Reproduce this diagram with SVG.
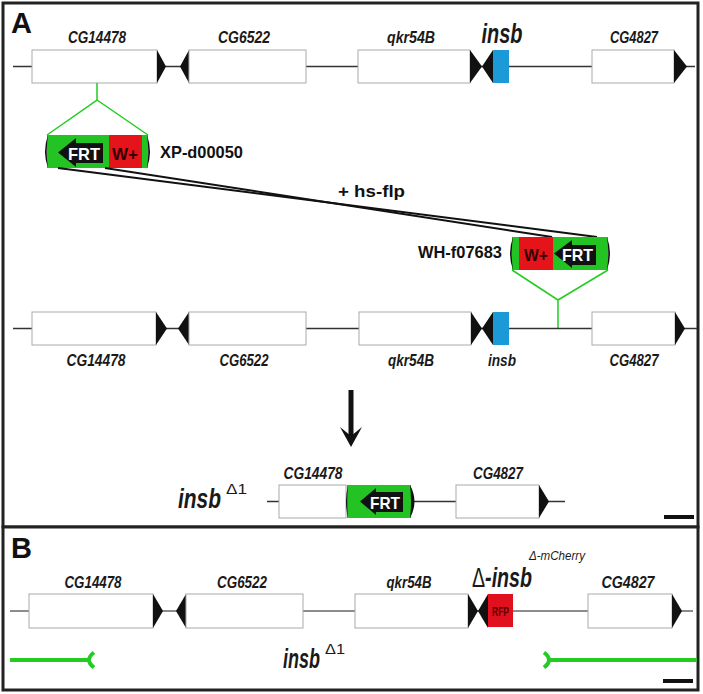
<svg xmlns="http://www.w3.org/2000/svg" width="703" height="694" viewBox="0 0 703 694">
<style>
.panel{fill:#fff;stroke:#222;stroke-width:3}
.gl{stroke:#333;stroke-width:1.5;fill:none}
.glb{stroke:#666;stroke-width:1.5;fill:none}
.gene{fill:#fff;stroke:#aaa;stroke-width:1}
.tri{fill:#111}
.lbl{font-family:"Liberation Sans",Arial,sans-serif;font-weight:bold;font-style:italic;font-size:16px;fill:#1a1a1a;text-anchor:middle}
.big{font-family:"Liberation Sans",Arial,sans-serif;font-weight:bold;font-style:italic;font-size:27px;fill:#1a1a1a}
.sup{font-family:"Liberation Sans",Arial,sans-serif;font-size:15px;fill:#1a1a1a}
.name{font-family:"Liberation Sans",Arial,sans-serif;font-weight:bold;font-size:17px;fill:#111}
.pl{font-family:"Liberation Sans",Arial,sans-serif;font-weight:bold;font-size:29px;fill:#111}
.grn{fill:#22c322}
.red{fill:#e5141b}
.frt{font-family:"Liberation Sans",Arial,sans-serif;font-weight:bold;font-size:17px;fill:#fff}
.wp{font-family:"Liberation Sans",Arial,sans-serif;font-weight:bold;font-size:17px;fill:#300}
.gy{stroke:#22cc22;stroke-width:1.5;fill:none}
.gb{stroke:#22cc22;stroke-width:4;fill:none}
.cl{stroke:#111;stroke-width:2;fill:none}
</style>
<rect class="panel" x="3" y="3" width="695" height="524"/>
<rect class="panel" x="3" y="527" width="695" height="163"/>
<text class="pl" x="11" y="33">A</text>
<text class="pl" x="11" y="558">B</text>

<g id="row1">
<line class="gl" x1="13" y1="66.5" x2="695" y2="66.5"/>
<g id="r1-CG14478"><rect class="gene" x="32" y="50" width="125" height="33"/><polygon class="tri" points="157,50 166,66.5 157,83"/><text class="lbl" x="97" y="43" textLength="58" lengthAdjust="spacingAndGlyphs">CG14478</text></g>
<g id="r1-CG6522"><polygon class="tri" points="180,66.5 189,50 189,83"/><rect class="gene" x="189" y="50" width="117" height="33"/><text class="lbl" x="244" y="43" textLength="52" lengthAdjust="spacingAndGlyphs">CG6522</text></g>
<g id="r1-qkr54B"><rect class="gene" x="358" y="50" width="112" height="33"/><polygon class="tri" points="470,50 482,66.5 470,83"/><text class="lbl" x="411" y="43" textLength="48" lengthAdjust="spacingAndGlyphs">qkr54B</text></g>
<g id="r1-insb"><polygon class="tri" points="482,66.5 493,50 493,83"/><rect x="493" y="50" width="16" height="33" fill="#1b9ad7"/><text class="big" x="502" y="43" text-anchor="middle" textLength="41" lengthAdjust="spacingAndGlyphs">insb</text></g>
<g id="r1-CG4827"><rect class="gene" x="592" y="50" width="82" height="33"/><polygon class="tri" points="674,50 687,66.5 674,83"/><text class="lbl" x="634" y="43" textLength="48" lengthAdjust="spacingAndGlyphs">CG4827</text></g>
</g>

<g id="cassette1">
<path class="gy" d="M97,83 V100 L47,135 M97,100 L148,135"/>
<rect class="grn" x="47" y="135" width="101" height="33"/>
<rect class="red" x="109" y="135" width="33" height="33"/>
<polygon fill="#111" points="58,152.5 76,138 76,143 103,143 103,163 76,163 76,167"/>
<text class="frt" x="68" y="160" textLength="32" lengthAdjust="spacingAndGlyphs">FRT</text>
<text class="wp" x="112" y="160" textLength="26" lengthAdjust="spacingAndGlyphs">W+</text>
<path fill="#111" d="M48,135 Q42,151.5 48,168 Q45.5,151.5 48,135Z"/>
<path fill="#111" d="M147,135 Q153,151.5 147,168 Q149.5,151.5 147,135Z"/>
<text class="name" x="160" y="158" textLength="83" lengthAdjust="spacingAndGlyphs">XP-d00050</text>
</g>

<g id="connectors">
<line class="cl" x1="58" y1="168" x2="597" y2="237"/>
<line class="cl" x1="105" y1="168" x2="552" y2="237"/>
<text class="name" x="338" y="197" textLength="67" lengthAdjust="spacingAndGlyphs">+ hs-flp</text>
<path d="M351,390 V436" stroke="#111" stroke-width="5"/>
<polygon fill="#111" points="351,447 340,427 351,436 362,427"/>
</g>

<g id="cassette2">
<path class="gy" d="M558,329 V300 L512,270 M558,300 L608,270"/>
<rect class="grn" x="512" y="237" width="96" height="33"/>
<rect class="red" x="519" y="237" width="34" height="33"/>
<polygon fill="#111" points="554,253.5 572,240 572,245 596,245 596,265 572,265 572,268"/>
<text class="frt" x="562" y="261" textLength="31" lengthAdjust="spacingAndGlyphs">FRT</text>
<text class="wp" x="524" y="261" textLength="24" lengthAdjust="spacingAndGlyphs">W+</text>
<path fill="#111" d="M513,237 Q507,253.5 513,270 Q510.5,253.5 513,237Z"/>
<path fill="#111" d="M607,237 Q613,253.5 607,270 Q609.5,253.5 607,237Z"/>
<text class="name" x="418" y="258" textLength="84" lengthAdjust="spacingAndGlyphs">WH-f07683</text>
</g>

<g id="row2">
<line class="gl" x1="13" y1="328.5" x2="697" y2="328.5"/>
<g id="r2-CG14478"><rect class="gene" x="32" y="312" width="124" height="33"/><polygon class="tri" points="156,312 167,328.5 156,345"/><text class="lbl" x="96" y="366" textLength="59" lengthAdjust="spacingAndGlyphs">CG14478</text></g>
<g id="r2-CG6522"><polygon class="tri" points="178,328.5 189,312 189,345"/><rect class="gene" x="189" y="312" width="117" height="33"/><text class="lbl" x="244" y="366" textLength="49" lengthAdjust="spacingAndGlyphs">CG6522</text></g>
<g id="r2-qkr54B"><rect class="gene" x="359" y="312" width="112" height="33"/><polygon class="tri" points="471,312 482,328.5 471,345"/><text class="lbl" x="411" y="366" textLength="46" lengthAdjust="spacingAndGlyphs">qkr54B</text></g>
<g id="r2-insb"><polygon class="tri" points="482,328.5 493,312 493,345"/><rect x="493" y="312" width="16" height="33" fill="#1b9ad7"/><text class="lbl" x="502" y="366" textLength="28" lengthAdjust="spacingAndGlyphs">insb</text></g>
<g id="r2-CG4827"><rect class="gene" x="592" y="312" width="83" height="33"/><polygon class="tri" points="675,312 685,328.5 675,345"/><text class="lbl" x="634" y="366" textLength="49" lengthAdjust="spacingAndGlyphs">CG4827</text></g>
</g>

<g id="row3">
<line class="gl" x1="267" y1="501.5" x2="565" y2="501.5"/>
<g id="r3-CG14478"><rect class="gene" x="279" y="485" width="67" height="33"/><text class="lbl" x="313" y="479" textLength="59" lengthAdjust="spacingAndGlyphs">CG14478</text></g>
<g id="r3-FRT"><rect class="grn" x="347" y="485" width="64" height="33"/>
<polygon fill="#111" points="360,501.5 376,488 376,492 403,492 403,512 376,512 376,515"/>
<text class="frt" x="370" y="509" font-size="15" textLength="30" lengthAdjust="spacingAndGlyphs">FRT</text>
<path fill="#111" d="M348,485 Q344,501.5 348,518 Q346.5,501.5 348,485Z"/>
<path fill="#111" d="M410,485 Q419,501.5 410,518 Q412,501.5 410,485Z"/></g>
<g id="r3-CG4827"><rect class="gene" x="456" y="485" width="83" height="33"/><polygon class="tri" points="539,485 549,501.5 539,518"/><text class="lbl" x="498" y="479" textLength="50" lengthAdjust="spacingAndGlyphs">CG4827</text></g>
<text class="big" x="178" y="508" textLength="43" lengthAdjust="spacingAndGlyphs">insb</text>
<text class="sup" x="226" y="494" font-size="16" textLength="21" lengthAdjust="spacingAndGlyphs">Δ1</text>
<rect x="664" y="515" width="30" height="4" fill="#111"/>
</g>

<g id="rowB">
<line class="glb" x1="10" y1="611" x2="693" y2="611"/>
<g id="b-CG14478"><rect class="gene" x="29" y="594" width="124" height="34"/><polygon class="tri" points="153,594 163,611 153,628"/><text class="lbl" x="93" y="588" textLength="57" lengthAdjust="spacingAndGlyphs">CG14478</text></g>
<g id="b-CG6522"><polygon class="tri" points="176,611 186,594 186,628"/><rect class="gene" x="186" y="594" width="117" height="34"/><text class="lbl" x="242" y="588" textLength="50" lengthAdjust="spacingAndGlyphs">CG6522</text></g>
<g id="b-qkr54B"><rect class="gene" x="355" y="594" width="113" height="34"/><polygon class="tri" points="468,594 478,611 468,628"/><text class="lbl" x="409" y="588" textLength="45" lengthAdjust="spacingAndGlyphs">qkr54B</text></g>
<g id="b-insb"><polygon class="tri" points="478,611 488,594 488,628"/><rect x="488" y="594" width="25" height="33" fill="#e0101e"/>
<text x="500.5" y="616" text-anchor="middle" font-family="'Liberation Sans',Arial,sans-serif" font-weight="bold" font-size="13" fill="#5a0000" textLength="17" lengthAdjust="spacingAndGlyphs">RFP</text>
<text x="472" y="587" font-family="'Liberation Sans',Arial,sans-serif" font-size="27" fill="#1a1a1a" textLength="60" lengthAdjust="spacingAndGlyphs">Δ<tspan font-weight="bold" font-style="italic">-insb</tspan></text>
<text x="529" y="560" font-family="'Liberation Sans',Arial,sans-serif" font-size="13" font-style="italic" fill="#1a1a1a" textLength="56" lengthAdjust="spacingAndGlyphs">Δ-mCherry</text></g>
<g id="b-CG4827"><rect class="gene" x="588" y="594" width="84" height="34"/><polygon class="tri" points="672,594 682,611 672,628"/><text class="lbl" x="628" y="588" textLength="53" lengthAdjust="spacingAndGlyphs">CG4827</text></g>
<g id="b-deletion">
<path class="gb" d="M10,660 H88 M94,652.5 Q84,660 94,667.5"/>
<path class="gb" d="M549,660 H697 M544,652.5 Q554,660 544,667.5"/>
<text class="big" x="283" y="668" textLength="37" lengthAdjust="spacingAndGlyphs">insb</text>
<text class="sup" x="325" y="654" font-size="16" textLength="20" lengthAdjust="spacingAndGlyphs">Δ1</text>
</g>
<rect x="663" y="679" width="30" height="4" fill="#111"/>
</g>
</svg>
